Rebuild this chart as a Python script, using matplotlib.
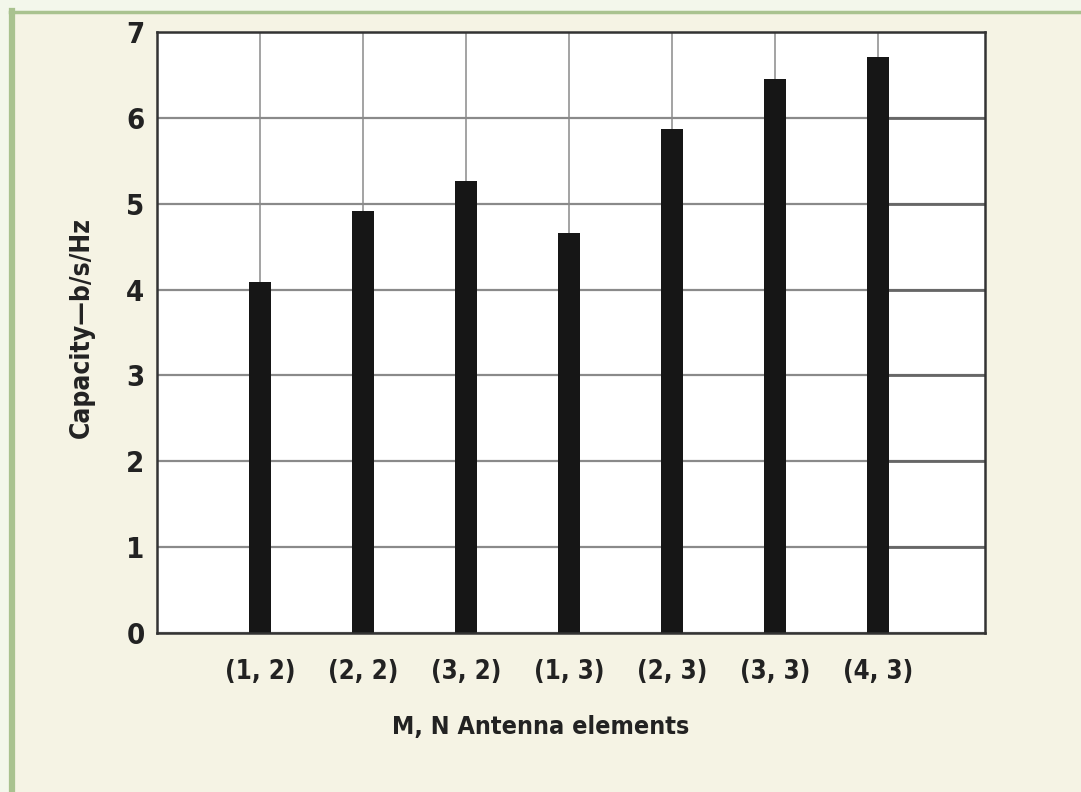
"""Capacity vs antenna elements bar chart"""

import matplotlib
matplotlib.use("Agg")
import matplotlib.pyplot as plt
from matplotlib.lines import Line2D

# data
antenna_pairs = ["(1, 2)", "(2, 2)", "(3, 2)", "(1, 3)", "(2, 3)", "(3, 3)", "(4, 3)"]
capacity = [4.09, 4.91, 5.26, 4.66, 5.87, 6.45, 6.71]
y_ticks = [0, 1, 2, 3, 4, 5, 6, 7]

bg_col = "#f5f3e4"
border_col = "#a9c28f"
fnt = ["DejaVu Sans"]

fig = plt.figure(figsize=(10.81, 7.92), dpi=100)
fig.patch.set_facecolor("#f3f7eb")
# beige panel with green border on top and left
fig.patches.append(plt.Rectangle((12 / 1081, 0), 1.0, 1 - 12 / 792,
                                 transform=fig.transFigure, facecolor=bg_col,
                                 edgecolor="none", zorder=-2))
fig.lines.append(Line2D([12 / 1081, 12 / 1081], [0, 1 - 11 / 792], transform=fig.transFigure,
                        color=border_col, lw=4.5, zorder=-1))
fig.lines.append(Line2D([10 / 1081, 1], [1 - 11.5 / 792, 1 - 11.5 / 792], transform=fig.transFigure,
                        color=border_col, lw=2.5, zorder=-1))

ax = fig.add_axes([157 / 1081, 1 - 633 / 792, 828 / 1081, 601 / 792])
ax.set_zorder(2)
ax.set_facecolor("white")
x = list(range(len(antenna_pairs)))
ax.bar(x, capacity, width=0.22, color="#161616", zorder=3)

ax.set_xlim(-1.0, 7.04)
ax.set_ylim(0, 7)
ax.set_yticks(y_ticks)
ax.set_xticks(x)
ax.set_xticklabels(antenna_pairs)
ax.grid(axis="y", color="#8a8a8a", lw=1.6, zorder=1)
ax.grid(axis="x", color="#8a8a8a", lw=1.1, zorder=1)
# darker grid segments to the right of the last bar
ax.hlines(y_ticks[1:-1], x[-1], 7.04, color="#666666", lw=2.0, zorder=2)
ax.tick_params(length=0)
ax.tick_params(axis="x", pad=19, labelsize=18.5)
ax.tick_params(axis="y", pad=9, labelsize=21)
for lab in ax.get_xticklabels() + ax.get_yticklabels():
  lab.set_family(fnt)
  lab.set_stretch("condensed")
  lab.set_fontweight("bold")
  lab.set_color("#222222")
for sp in ax.spines.values():
  sp.set_color("#333333")
  sp.set_linewidth(1.8)
  sp.set_zorder(4)

fig.text(541 / 1081, 1 - 727 / 792, "M, N Antenna elements", ha="center", va="center",
         fontsize=18, family=fnt, stretch="condensed", fontweight="bold", color="#222222")
fig.text(82 / 1081, 1 - 327 / 792, "Capacity\u2014b/s/Hz", ha="center", va="center",
         rotation=90, fontsize=19, family=fnt, stretch="condensed", fontweight="bold",
         color="#222222")

plt.savefig("out.png", dpi=100, facecolor=fig.get_facecolor())
